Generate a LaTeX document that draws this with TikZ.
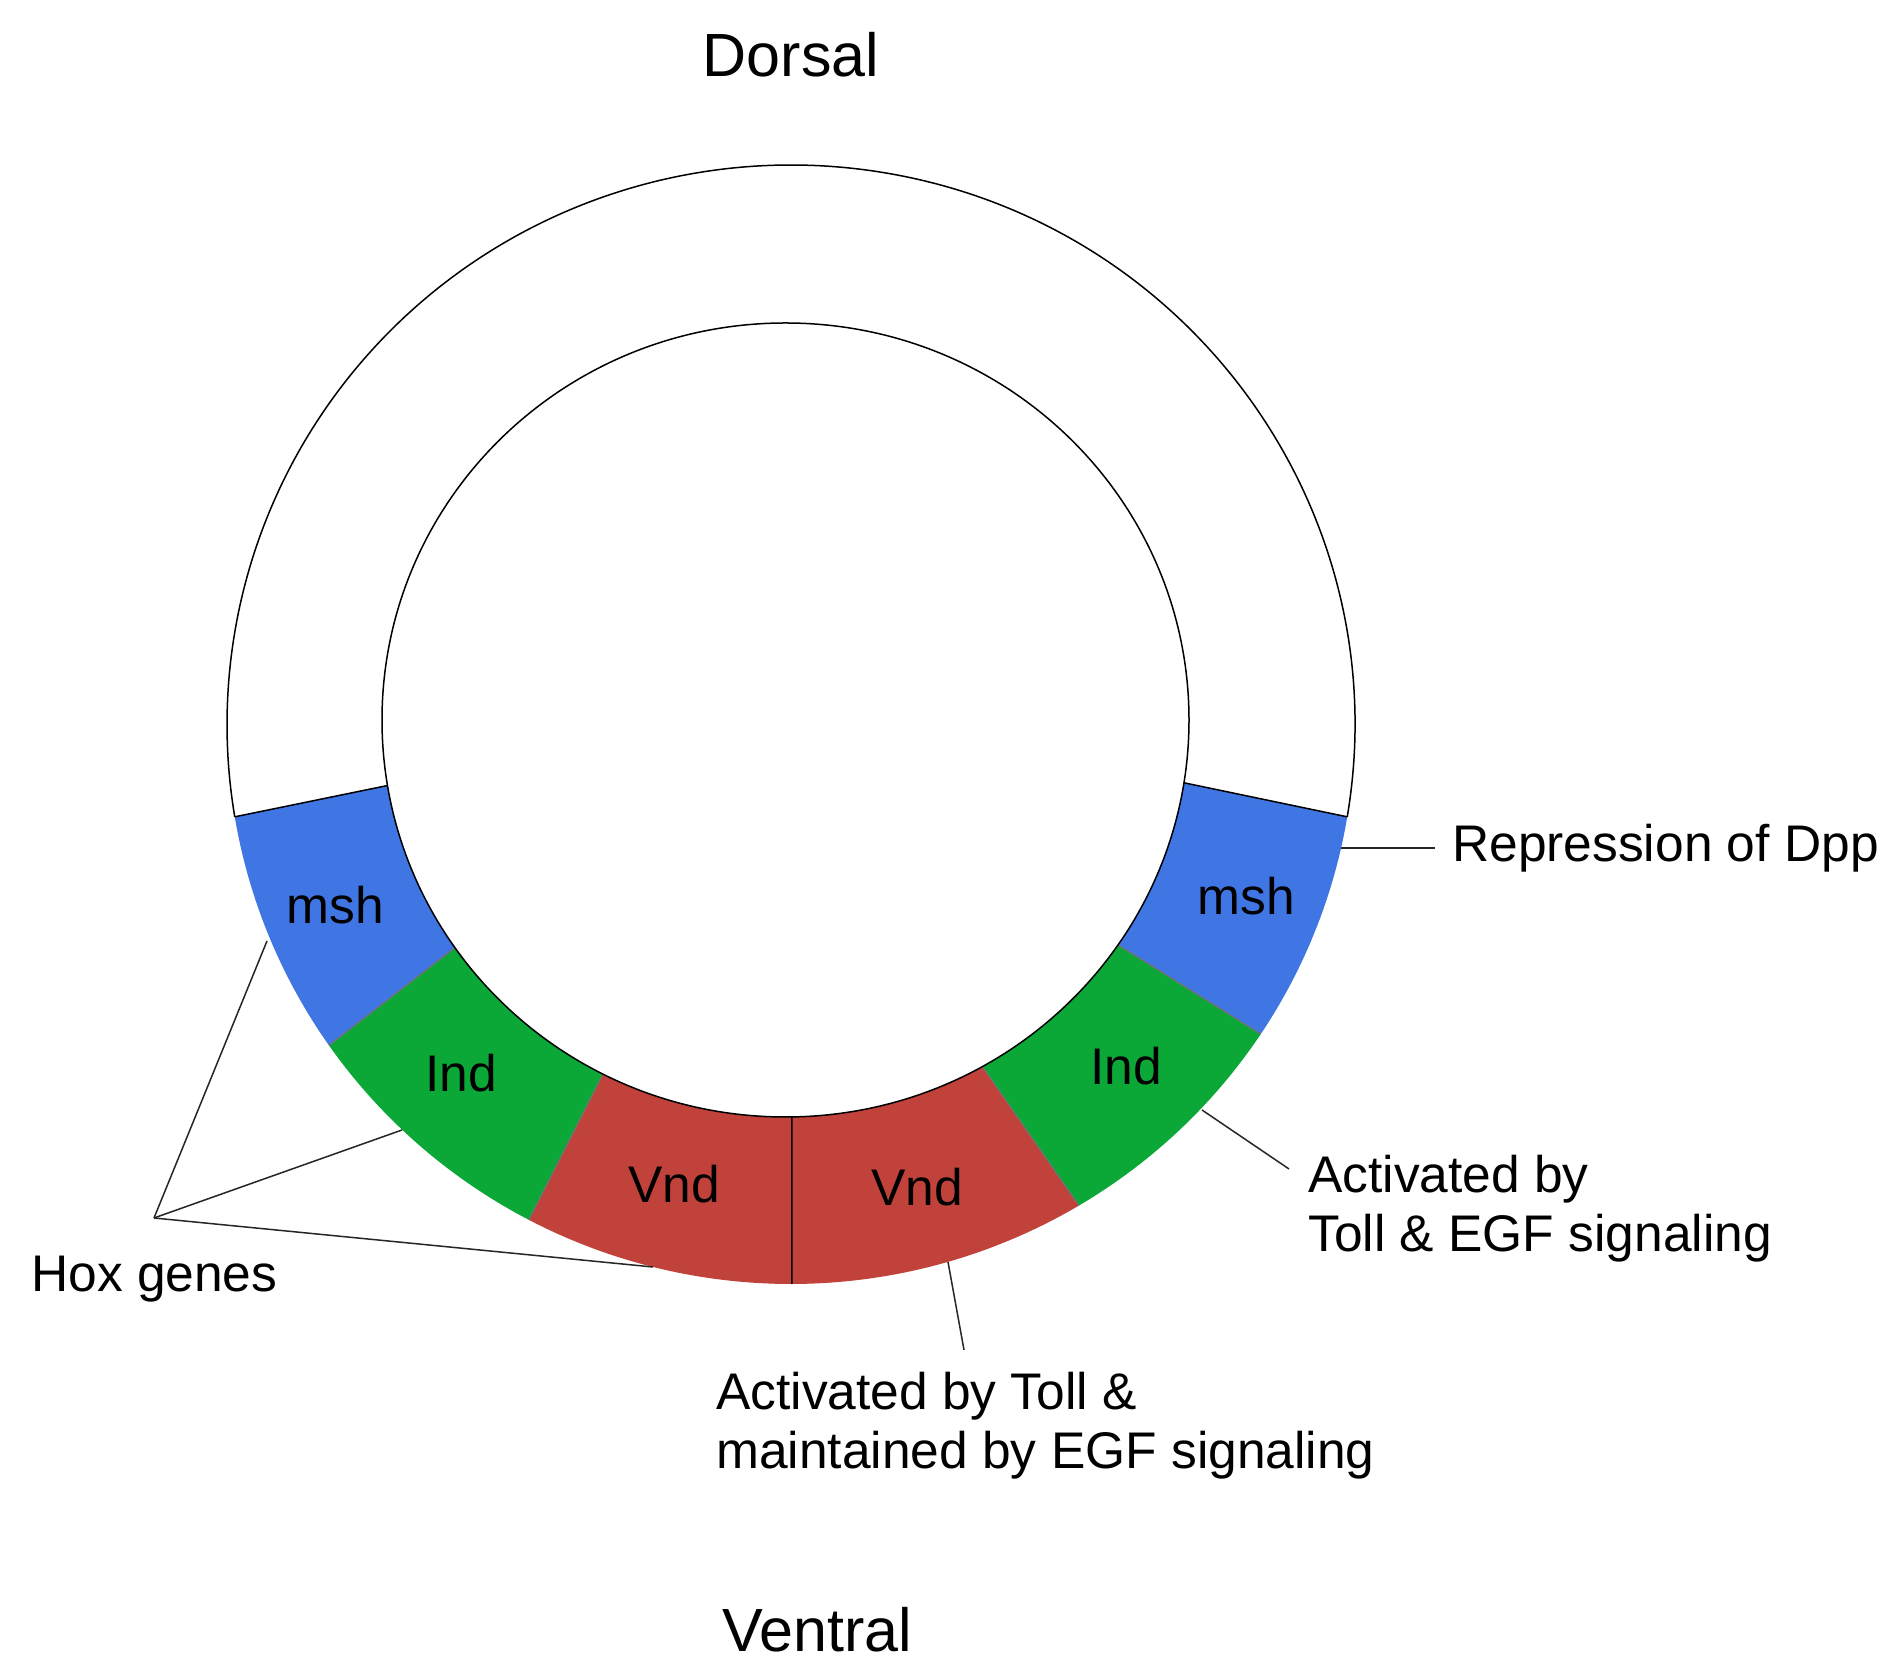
\documentclass[tikz,border=0pt]{standalone}
\usepackage{fontspec}
\setmainfont{Liberation Sans}
\definecolor{mshblue}{HTML}{3F76E4}
\definecolor{indgreen}{HTML}{0BA838}
\definecolor{vndred}{HTML}{C0423A}
% colour, outer start, outer end, inner start, inner end
\newcommand\ringseg[5]{%
  \fill[#1] ([shift={(O)}]#2:564 and 559.5) arc[start angle=#2, end angle=#3, x radius=564, y radius=559.5]
    -- ([shift={(I)}]#5:403.5 and 397) arc[start angle=#5, end angle=#4, x radius=403.5, y radius=397] -- cycle;}
% style, outer angle, inner angle
\newcommand\ringcut[3]{%
  \draw[#1] ([shift={(I)}]#3:403.5 and 397) -- ([shift={(O)}]#2:564 and 559.5);}
\begin{document}
\begin{tikzpicture}[x=1pt,y=1pt,
  lbl/.style={inner sep=0pt, font=\fontsize{51.5}{59}\selectfont},
  big/.style={inner sep=0pt, font=\fontsize{61}{70}\selectfont},
  ring/.style={line width=1.5pt, black},
  conn/.style={line width=1.5pt, black!85},
  cut/.style={line width=1.2pt, black!55},
  cutdark/.style={line width=1.5pt, black}]
\useasboundingbox (0,0) rectangle (1887,1673);
\fill[white] (0,0) rectangle (1887,1673);
\coordinate (O) at (791,948.5);
\coordinate (I) at (785.5,953);
% coloured segments
\ringseg{mshblue}{189.5}{215}{189.5}{215}
\ringseg{indgreen}{215}{242.3}{215}{243.1}
\ringseg{vndred}{242.3}{270.1}{243.1}{270.9}
\ringseg{vndred}{270.1}{300.7}{270.9}{299.2}
\ringseg{indgreen}{300.7}{326.4}{299.2}{325.5}
\ringseg{mshblue}{326.4}{350.5}{325.5}{350.9}
% boundaries
\ringcut{cutdark}{189.5}{189.5}
\ringcut{cut}{215}{215}
\ringcut{cut}{242.3}{243.1}
\ringcut{cutdark}{270.1}{270.9}
\ringcut{cut}{300.7}{299.2}
\ringcut{cut}{326.4}{325.5}
\ringcut{cutdark}{350.5}{350.9}
% circles
\draw[ring] (I) ellipse[x radius=403.5, y radius=397];
\draw[ring] ([shift={(O)}]-9.5:564 and 559.5) arc[start angle=-9.5, end angle=189.5, x radius=564, y radius=559.5];
% segment labels
\node[lbl, anchor=base] (mshL) at (335,749) {msh};
\node[lbl, anchor=base] (mshR) at (1246,758) {msh};
\node[lbl, anchor=base] (indL) at (461,581) {Ind};
\node[lbl, anchor=base] (indR) at (1126,588) {Ind};
\node[lbl, anchor=base] (vndL) at (674,470) {Vnd};
\node[lbl, anchor=base] (vndR) at (917,467) {Vnd};
% titles
\node[big, anchor=base] (dorsal) at (791,1596) {Dorsal};
\node[big, anchor=base] (ventral) at (817,22) {Ventral};
% annotations
\node[lbl, anchor=base west] (rep) at (1452,811) {Repression of Dpp};
\node[lbl, anchor=base west] (actR) at (1308,480) {\begin{tabular}[t]{@{}l@{}}Activated by\\Toll \& EGF signaling\end{tabular}};
\node[lbl, anchor=base west] (actB) at (716,263) {\begin{tabular}[t]{@{}l@{}}Activated by Toll \&\\maintained by EGF signaling\end{tabular}};
\node[lbl, anchor=base west] (hox) at (31,381) {Hox genes};
% connector coordinates
\coordinate (repA) at (1341,825);
\coordinate (repB) at (1435,825);
\coordinate (actRA) at (1202,563);
\coordinate (actRB) at (1289,504);
\coordinate (actBA) at (948,411);
\coordinate (actBB) at (964,323);
\coordinate (hoxApex) at (154,455);
\coordinate (hox1) at (267,732);
\coordinate (hox2) at (402,543);
\coordinate (hox3) at (653,406);
\draw[conn] (repA) -- (repB);
\draw[conn] (actRA) -- (actRB);
\draw[conn] (actBA) -- (actBB);
\draw[conn] (hoxApex) -- (hox1);
\draw[conn] (hoxApex) -- (hox2);
\draw[conn] (hoxApex) -- (hox3);
\end{tikzpicture}
\end{document}
